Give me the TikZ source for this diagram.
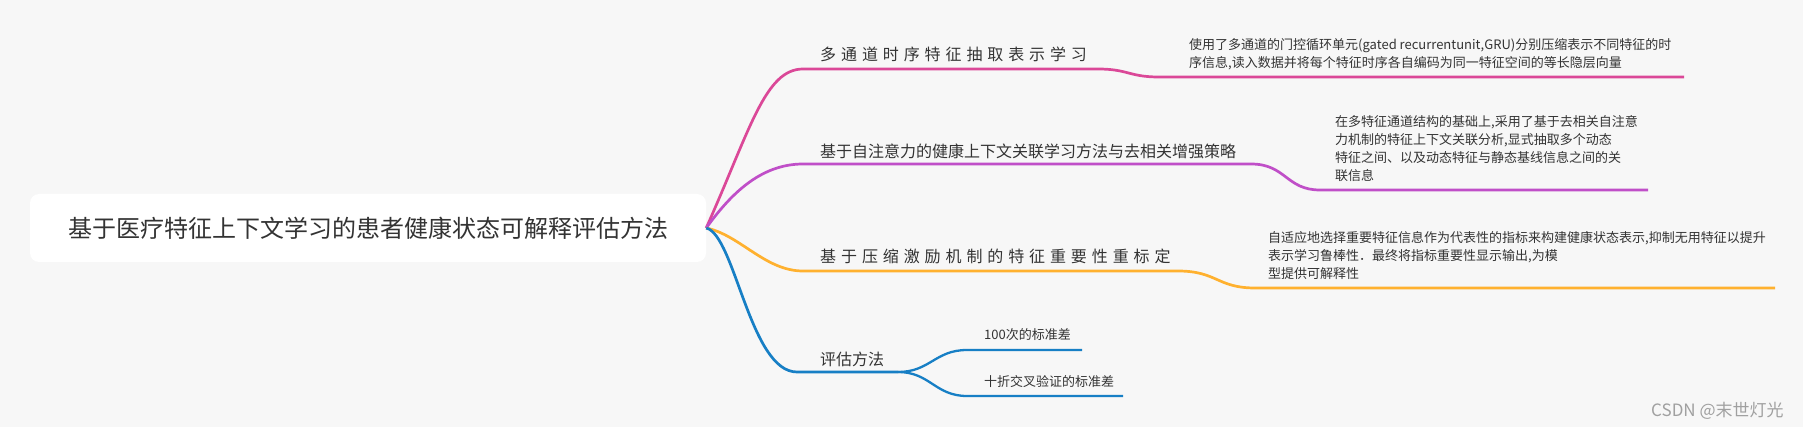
\documentclass[tikz,border=0pt]{standalone}
\usepackage{fontspec}
\setmainfont{Noto Sans CJK SC}
\definecolor{bg}{HTML}{F7F7F7}
\definecolor{cpink}{HTML}{DB4898}
\definecolor{cpurple}{HTML}{C04FC8}
\definecolor{corange}{HTML}{FFB12F}
\definecolor{cblue}{HTML}{177FC5}
\definecolor{txt}{HTML}{333333}
\definecolor{wm}{HTML}{A0A0A0}
\newcommand\myspacedfont{\fontsize{16}{19}\selectfont\spaceskip 4.9pt plus 0pt minus 0pt\relax}
\begin{document}
\begin{tikzpicture}[x=1pt,y=-1pt,
  branch/.style={line width=2.7pt},
  subbranch/.style={line width=2.3pt},
  title/.style={font=\fontsize{16}{19}\selectfont, text=txt, inner sep=0pt, anchor=west},
  spacedtitle/.style={font=\myspacedfont, text=txt, inner sep=0pt, anchor=west},
  subtitle/.style={font=\fontsize{13}{16}\selectfont, text=txt, inner sep=0pt, anchor=west},
  desc/.style={font=\fontsize{13}{18}\selectfont, text=txt, inner sep=0pt, anchor=base west},
  rootbox/.style={fill=white, rounded corners=9pt, minimum width=676pt, minimum height=68pt, inner sep=0pt,
    font=\fontsize{24}{28}\selectfont, text=txt}]
\fill[bg] (0,0) rectangle (1803,427);
\useasboundingbox (0,0) rectangle (1803,427);

\node[rootbox] (root) at (368,228) {基于医疗特征上下文学习的患者健康状态可解释评估方法};

% coordinates
\coordinate (pk1) at (803,69);  \coordinate (pk2) at (1098,69);
\coordinate (pk3) at (1159,77); \coordinate (pk4) at (1684,77);
\coordinate (pu1) at (803,164); \coordinate (pu2) at (1251,164);
\coordinate (pu3) at (1320,190); \coordinate (pu4) at (1648,190);
\coordinate (or1) at (803,271); \coordinate (or2) at (1178,271);
\coordinate (or3) at (1255,288); \coordinate (or4) at (1775,288);
\coordinate (bl1) at (797,372); \coordinate (bl2) at (898,372);
\coordinate (bl3) at (967,350); \coordinate (bl4) at (1082,350);
\coordinate (bl5) at (967,396); \coordinate (bl6) at (1123,396);

% branches
\draw[branch, cpink] (root.east) .. controls (750,130) and (765,69) .. (pk1) -- (pk2)
  .. controls (1128,69) and (1129,77) .. (pk3) -- (pk4);
\draw[branch, cpurple] (root.east) .. controls (730,195) and (760,164) .. (pu1) -- (pu2)
  .. controls (1286,164) and (1286,190) .. (pu3) -- (pu4);
\draw[branch, corange] (root.east) .. controls (740,235) and (765,271) .. (or1) -- (or2)
  .. controls (1217,271) and (1217,288) .. (or3) -- (or4);
\draw[branch, cblue] (root.east) .. controls (735,235) and (750,372) .. (bl1) -- (bl2);
\draw[subbranch, cblue] (bl2) .. controls (930,372) and (935,350) .. (bl3) -- (bl4);
\draw[subbranch, cblue] (bl2) .. controls (930,372) and (935,396) .. (bl5) -- (bl6);

% titles
\node[spacedtitle] (t1) at (820,54) {多 通 道 时 序 特 征 抽 取 表 示 学 习};
\node[title] (t2) at (820,151) {基于自注意力的健康上下文关联学习方法与去相关增强策略};
\node[spacedtitle] (t3) at (820,256) {基 于 压 缩 激 励 机 制 的 特 征 重 要 性 重 标 定};
\node[title] (t4) at (820,359) {评估方法};
\node[subtitle] (t41) at (984,335) {100次的标准差};
\node[subtitle] (t42) at (984,382) {十折交叉验证的标准差};

% descriptions
\node[desc] (d1) at (1189,50) {\parbox[t]{520pt}{\raggedright
使用了多通道的门控循环单元(gated recurrentunit,GRU)分别压缩表示不同特征的时\\
序信息,读入数据并将每个特征时序各自编码为同一特征空间的等长隐层向量}};
\node[desc] (d2) at (1335,127) {\parbox[t]{330pt}{\raggedright
在多特征通道结构的基础上,采用了基于去相关自注意\\
力机制的特征上下文关联分析,显式抽取多个动态\\
特征之间、以及动态特征与静态基线信息之间的关\\
联信息}};
\node[desc] (d3) at (1268,243) {\parbox[t]{530pt}{\raggedright
自适应地选择重要特征信息作为代表性的指标来构建健康状态表示,抑制无用特征以提升\\
表示学习鲁棒性．最终将指标重要性显示输出,为模\\
型提供可解释性}};

\node[font=\fontsize{17}{20}\selectfont, text=wm, inner sep=0pt, anchor=west] (wmk) at (1651,411) {CSDN @末世灯光};
\end{tikzpicture}
\end{document}
